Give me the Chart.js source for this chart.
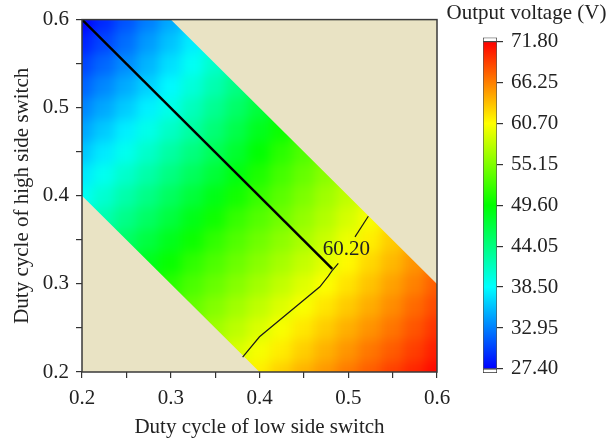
<!DOCTYPE html>
<html>
<head>
<meta charset="utf-8">
<script src="https://cdn.jsdelivr.net/npm/chart.js@4.4.1/dist/chart.umd.min.js"></script>
<style>
    body { margin: 0; background: #fff; }
    #wrap { position: relative; width: 608px; height: 443px; }
    #heatWrap { position: absolute; left: 0; top: 0; width: 608px; height: 443px; }
    #heat { position: absolute; left: 0; top: 0; filter: blur(6px); }
    #main { position: absolute; left: 0; top: 0; }
    #bar { position: absolute; left: 440px; top: 0; }
</style>
</head>
<body>
<div id="wrap">
    <div id="heatWrap"><canvas id="heat" width="608" height="443"></canvas></div>
    <canvas id="main" width="608" height="443"></canvas>
    <canvas id="bar" width="168" height="443"></canvas>
</div>
<script>
const _ = null;

// grid of the duty cycles (x = low side, y = high side)
const xGrid = [0.2, 0.225, 0.25, 0.275, 0.3, 0.325, 0.35, 0.375, 0.4, 0.425, 0.45, 0.475, 0.5, 0.525, 0.55, 0.575, 0.6];
const yGrid = [0.2, 0.225, 0.25, 0.275, 0.3, 0.325, 0.35, 0.375, 0.4, 0.425, 0.45, 0.475, 0.5, 0.525, 0.55, 0.575, 0.6];

// output voltage (V), one row per high side duty cycle
const vAt200 = [_, _, _, _, _, _, _, 60.1, 61.4, 62.7, 64.0, 65.2, 66.5, 67.7, 69.0, 70.2, 71.5];
const vAt225 = [_, _, _, _, _, _, 57.7, 59.0, 60.3, 61.5, 62.8, 64.1, 65.3, 66.6, 67.8, 69.1, 70.5];
const vAt250 = [_, _, _, _, _, 55.2, 56.5, 57.8, 59.1, 60.4, 61.7, 62.9, 64.2, 65.4, 66.7, 68.1, 69.6];
const vAt275 = [_, _, _, _, 52.7, 54.0, 55.3, 56.6, 57.9, 59.2, 60.5, 61.8, 63.0, 64.3, 65.7, 67.2, 68.6];
const vAt300 = [_, _, _, 49.8, 51.4, 52.8, 54.1, 55.4, 56.7, 58.0, 59.3, 60.6, 61.9, 63.3, 64.8, 66.2, 67.7];
const vAt325 = [_, _, 46.6, 48.3, 49.9, 51.6, 52.9, 54.2, 55.5, 56.8, 58.1, 59.4, 60.9, 62.4, 63.8, 65.3, 66.7];
const vAt350 = [_, 43.5, 45.2, 46.8, 48.4, 50.1, 51.7, 53.1, 54.4, 55.7, 57.0, 58.4, 59.9, 61.4, 62.9, 64.3, _];
const vAt375 = [40.4, 42.0, 43.7, 45.3, 46.9, 48.6, 50.2, 51.9, 53.2, 54.5, 56.0, 57.4, 58.9, 60.4, 61.9, _, _];
const vAt400 = [38.9, 40.5, 42.2, 43.8, 45.5, 47.1, 48.7, 50.4, 52.0, 53.5, 55.0, 56.5, 57.9, 59.4, _, _, _];
const vAt425 = [37.5, 39.1, 40.7, 42.3, 44.0, 45.6, 47.2, 48.9, 50.8, 52.5, 54.0, 55.5, 57.0, _, _, _, _];
const vAt450 = [36.0, 37.6, 39.2, 40.8, 42.5, 44.1, 45.8, 47.6, 49.5, 51.4, 53.0, 54.5, _, _, _, _, _];
const vAt475 = [34.6, 36.2, 37.8, 39.4, 41.0, 42.6, 44.5, 46.4, 48.3, 50.1, 52.0, _, _, _, _, _, _];
const vAt500 = [33.2, 34.7, 36.3, 37.9, 39.5, 41.4, 43.3, 45.1, 47.0, 48.9, _, _, _, _, _, _, _];
const vAt525 = [31.7, 33.3, 34.9, 36.5, 38.3, 40.1, 42.0, 43.9, 45.8, _, _, _, _, _, _, _, _];
const vAt550 = [30.3, 31.9, 33.5, 35.3, 37.1, 38.9, 40.8, 42.6, _, _, _, _, _, _, _, _, _];
const vAt575 = [28.8, 30.4, 32.2, 34.1, 35.9, 37.7, 39.5, _, _, _, _, _, _, _, _, _, _];
const vAt600 = [27.4, 29.2, 31.0, 32.9, 34.7, 36.5, _, _, _, _, _, _, _, _, _, _, _];
const gridRows = [vAt200, vAt225, vAt250, vAt275, vAt300, vAt325, vAt350, vAt375, vAt400,
    vAt425, vAt450, vAt475, vAt500, vAt525, vAt550, vAt575, vAt600];

// operating region (outside is blank)
const bandX = [0.2, 0.4, 0.6, 0.6, 0.3, 0.2];
const bandY = [0.4, 0.2, 0.2, 0.3, 0.6, 0.6];

// mode boundary line and the 60.20 V contour
const boundaryX = [0.2, 0.482];
const boundaryY = [0.6, 0.317];
const contourLowX = [0.381, 0.4, 0.468, 0.4775, 0.4814, 0.4888];
const contourLowY = [0.217, 0.24, 0.2967, 0.3088, 0.3144, 0.3232];
const contourHighX = [0.5076, 0.5226];
const contourHighY = [0.3533, 0.3768];
const contourLevel = 60.2;
const contourLabelAt = [0.498, 0.339];

// colour bar
const cbMin = 27.4;
const cbMax = 71.8;
const cbTicks = [27.4, 32.95, 38.5, 44.05, 49.6, 55.15, 60.7, 66.25, 71.8];
const cbCap = 0.55;

const serif = "'Liberation Serif', 'Times New Roman', serif";
const ink = "#222";
const ramp = [[0, 0, 255], [0, 255, 255], [0, 255, 0], [255, 255, 0], [255, 0, 0]];

function rampColor(t) {
    t = Math.max(0, Math.min(1, t));
    var p = t * 4;
    var k = Math.min(3, Math.floor(p));
    var f = p - k;
    var a = ramp[k], b = ramp[k + 1];
    return "rgb(" + Math.round(a[0] + (b[0] - a[0]) * f) + "," +
        Math.round(a[1] + (b[1] - a[1]) * f) + "," +
        Math.round(a[2] + (b[2] - a[2]) * f) + ")";
}

function voltColor(v) {
    return rampColor((v - cbMin) / (cbMax - cbMin));
}

function toPoints(xs, ys) {
    return xs.map(function (x, i) { return { x: x, y: ys[i] }; });
}

function axisOpts(title, isX, hidden) {
    return {
        type: "linear",
        min: 0.2,
        max: 0.6,
        ticks: {
            stepSize: 0.05,
            autoSkip: false,
            padding: isX ? 8 : 7,
            color: hidden ? "transparent" : ink,
            font: { family: serif, size: 21 },
            callback: function (v) {
                return Math.abs(v * 10 - Math.round(v * 10)) < 1e-6 ? v.toFixed(1) : "";
            },
        },
        grid: {
            drawOnChartArea: false,
            drawTicks: true,
            tickLength: 6,
            color: hidden ? "transparent" : "#333",
            lineWidth: 1.2,
        },
        border: { display: false },
        title: {
            display: true,
            text: title,
            color: hidden ? "transparent" : ink,
            font: { family: serif, size: 21 },
            padding: isX ? { top: 0, bottom: 3 } : { top: 10, bottom: 0 },
        },
        afterFit: function (scale) {
            if (isX) scale.height = 71;
            else scale.width = 82;
        },
    };
}

const plotPadding = { left: 0, right: 171, top: 19, bottom: 0 };

// heat map cells
const cellData = [];
gridRows.forEach(function (row, j) {
    row.forEach(function (v, i) {
        if (v !== null) cellData.push({ x: xGrid[i], y: yGrid[j], v: v });
    });
});

const heatChart = new Chart(document.getElementById("heat"), {
    type: "scatter",
    data: {
        datasets: [
            {
                data: cellData,
                clip: false,
                pointStyle: "rect",
                borderWidth: 0,
                pointRadius: function (c) {
                    var sx = c.chart.scales.x;
                    var side = sx.getPixelForValue(xGrid[1]) - sx.getPixelForValue(xGrid[0]) + 1.5;
                    return side / Math.SQRT2;
                },
                backgroundColor: function (c) {
                    return c.raw ? voltColor(c.raw.v) : "#000";
                },
            },
        ],
    },
    options: {
        responsive: false,
        animation: false,
        events: [],
        layout: { padding: plotPadding },
        plugins: { legend: { display: false }, tooltip: { enabled: false } },
        scales: {
            x: axisOpts("Duty cycle of low side switch", true, true),
            y: axisOpts("Duty cycle of high side switch", false, true),
        },
    },
});

var ha = heatChart.chartArea;
document.getElementById("heatWrap").style.clipPath =
    "inset(" + ha.top + "px " + (608 - ha.right) + "px " + (443 - ha.bottom) + "px " + ha.left + "px)";

const bandPlugin = {
    id: "band",
    beforeDatasetsDraw: function (chart) {
        var ctx = chart.ctx, a = chart.chartArea, sx = chart.scales.x, sy = chart.scales.y;
        ctx.save();
        ctx.beginPath();
        ctx.rect(a.left, a.top, a.right - a.left, a.bottom - a.top);
        bandX.forEach(function (x, i) {
            var px = sx.getPixelForValue(x), py = sy.getPixelForValue(bandY[i]);
            if (i == 0) ctx.moveTo(px, py);
            else ctx.lineTo(px, py);
        });
        ctx.closePath();
        ctx.fillStyle = "#e9e3c4";
        ctx.fill("evenodd");
        ctx.restore();
    },
    afterDatasetsDraw: function (chart) {
        var ctx = chart.ctx, a = chart.chartArea, sx = chart.scales.x, sy = chart.scales.y;
        ctx.save();
        ctx.strokeStyle = "#3a3a3a";
        ctx.lineWidth = 1.5;
        ctx.strokeRect(a.left, a.top, a.right - a.left, a.bottom - a.top);
        ctx.fillStyle = ink;
        ctx.font = "21px " + serif;
        ctx.textAlign = "center";
        ctx.textBaseline = "middle";
        ctx.fillText(contourLevel.toFixed(2), sx.getPixelForValue(contourLabelAt[0]), sy.getPixelForValue(contourLabelAt[1]));
        ctx.restore();
    },
};

new Chart(document.getElementById("main"), {
    type: "scatter",
    data: {
        datasets: [
            {
                data: toPoints(boundaryX, boundaryY),
                showLine: true,
                borderColor: "#000",
                borderWidth: 2.5,
                pointRadius: 0,
            },
            {
                data: toPoints(contourLowX, contourLowY),
                showLine: true,
                borderColor: "#1a1a1a",
                borderWidth: 1.2,
                pointRadius: 0,
            },
            {
                data: toPoints(contourHighX, contourHighY),
                showLine: true,
                borderColor: "#1a1a1a",
                borderWidth: 1.2,
                pointRadius: 0,
            },
        ],
    },
    options: {
        responsive: false,
        animation: false,
        events: [],
        layout: { padding: plotPadding },
        plugins: { legend: { display: false }, tooltip: { enabled: false } },
        scales: {
            x: axisOpts("Duty cycle of low side switch", true, false),
            y: axisOpts("Duty cycle of high side switch", false, false),
        },
    },
    plugins: [bandPlugin],
});

function barGradient(c) {
    var chart = c.chart, sy = chart.scales.y;
    if (!chart.chartArea || !sy) return voltColor((cbMin + cbMax) / 2);
    var g = chart.ctx.createLinearGradient(0, sy.getPixelForValue(cbMin), 0, sy.getPixelForValue(cbMax));
    ramp.forEach(function (rgb, k) {
        g.addColorStop(k / 4, "rgb(" + rgb.join(",") + ")");
    });
    return g;
}

const cbTitle = {
    id: "cbTitle",
    afterDraw: function (chart) {
        var ctx = chart.ctx;
        ctx.save();
        ctx.fillStyle = ink;
        ctx.font = "21px " + serif;
        ctx.textAlign = "center";
        ctx.textBaseline = "middle";
        ctx.fillText("Output voltage (V)", chart.width / 2 + 2.5, 13);
        ctx.restore();
    },
};

new Chart(document.getElementById("bar"), {
    type: "bar",
    data: {
        labels: [""],
        datasets: [
            {
                data: [[cbMin, cbMax]],
                backgroundColor: barGradient,
                borderColor: "#555",
                borderWidth: 1,
                borderSkipped: false,
                grouped: false,
                barPercentage: 1,
                categoryPercentage: 1,
            },
            {
                data: [[cbMax, cbMax + cbCap]],
                backgroundColor: "#fff",
                borderColor: "#333",
                borderWidth: 1,
                borderSkipped: false,
                grouped: false,
                barPercentage: 1,
                categoryPercentage: 1,
            },
            {
                data: [[cbMin - cbCap, cbMin]],
                backgroundColor: "#fff",
                borderColor: "#333",
                borderWidth: 1,
                borderSkipped: false,
                grouped: false,
                barPercentage: 1,
                categoryPercentage: 1,
            },
        ],
    },
    options: {
        responsive: false,
        animation: false,
        events: [],
        layout: { padding: { left: 43, right: 0, top: 37.5, bottom: 70 } },
        plugins: { legend: { display: false }, tooltip: { enabled: false } },
        scales: {
            x: { display: false },
            y: {
                position: "right",
                min: cbMin - cbCap,
                max: cbMax + cbCap,
                afterBuildTicks: function (scale) {
                    scale.ticks = cbTicks.map(function (v) { return { value: v }; });
                },
                ticks: {
                    color: ink,
                    padding: 8,
                    font: { family: serif, size: 21 },
                    callback: function (v) { return Number(v).toFixed(2); },
                },
                grid: { drawOnChartArea: false, tickLength: 6, color: "#333", lineWidth: 1.2 },
                border: { display: false },
                afterFit: function (scale) { scale.width = 111; },
            },
        },
    },
    plugins: [cbTitle],
});
</script>
</body>
</html>
